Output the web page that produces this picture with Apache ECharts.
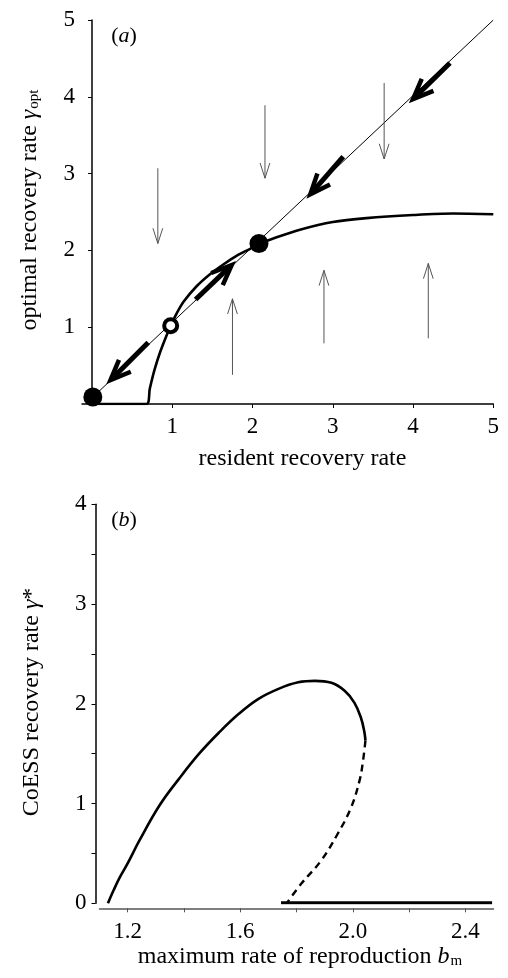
<!DOCTYPE html>
<html><head><meta charset="utf-8">
<script src="https://cdn.jsdelivr.net/npm/echarts@6/dist/echarts.min.js"></script>
<style>html,body{margin:0;padding:0;background:#fff}#c{width:508px;height:978px}</style>
</head><body><div id="c"></div>
<script>
// ---------- Panel (a) data ----------
const aXTicks = [1, 2, 3, 4, 5];
const aYTicks = [1, 2, 3, 4, 5];
const diagonal = [[0, 0.08], [5, 5]];
const optimalCurve = [
  [0, 0], [0.68, 0], [0.72, 0.2], [0.78, 0.45], [0.85, 0.68], [0.92, 0.87], [0.98, 1.02],
  [1.05, 1.17], [1.14, 1.33], [1.30, 1.53], [1.47, 1.69], [1.64, 1.82], [1.80, 1.93],
  [1.97, 2.02], [2.08, 2.08], [2.30, 2.17], [2.59, 2.27], [3.0, 2.37], [3.42, 2.42],
  [4.0, 2.46], [4.5, 2.48], [5.0, 2.47]
];
const stablePoints = [[0.01, 0.09], [2.08, 2.09]];
const unstablePoints = [[0.98, 1.02]];
// [tailX, tailY, tipX, tipY]
const thickArrows = [
  [0.70, 0.80, 0.23, 0.31],
  [1.29, 1.36, 1.74, 1.81],
  [3.13, 3.22, 2.72, 2.73],
  [4.46, 4.44, 4.00, 3.97]
];
const thinArrows = [
  [0.82, 3.07, 0.82, 2.09],
  [2.155, 3.89, 2.155, 2.94],
  [3.64, 4.18, 3.64, 3.19],
  [1.75, 0.38, 1.75, 1.37],
  [2.89, 0.79, 2.89, 1.74],
  [4.19, 0.855, 4.19, 1.83]
];
// ---------- Panel (b) data ----------
const bYLabels = [0, 1, 2, 3, 4];
const bYTicks = [0, 0.5, 1, 1.5, 2, 2.5, 3, 3.5, 4];
const bXLabels = [1.2, 1.6, 2.0, 2.4];
const bXTicks = [1.2, 1.4, 1.6, 1.8, 2.0, 2.2, 2.4];
const solidBranch = [
  [1.13, 0], [1.15, 0.13], [1.172, 0.26], [1.20, 0.40], [1.242, 0.63], [1.313, 0.98], [1.383, 1.25],
  [1.454, 1.50], [1.524, 1.71], [1.595, 1.90], [1.665, 2.05], [1.736, 2.15], [1.806, 2.215],
  [1.865, 2.23], [1.924, 2.21], [1.971, 2.13], [2.006, 2.01], [2.029, 1.86], [2.041, 1.72],
  [2.045, 1.63]
];
const dashedBranch = [
  [2.045, 1.63], [2.035, 1.40], [2.024, 1.23], [1.994, 0.96], [1.947, 0.70],
  [1.888, 0.43], [1.818, 0.20], [1.765, 0.0]
];
const zeroBranch = [[1.745, 0.005], [2.495, 0.005]];

const SERIF = 'Liberation Serif';

function arrowRenderer(headLen, headAngle, shaftW, headW, color, shorten) {
  return function (params, api) {
    const p1 = api.coord([api.value(0), api.value(1)]);
    const p2 = api.coord([api.value(2), api.value(3)]);
    const ang = Math.atan2(p1[1] - p2[1], p1[0] - p2[0]);
    const l = [p2[0] + headLen * Math.cos(ang + headAngle), p2[1] + headLen * Math.sin(ang + headAngle)];
    const r = [p2[0] + headLen * Math.cos(ang - headAngle), p2[1] + headLen * Math.sin(ang - headAngle)];
    const e = [p2[0] + shorten * Math.cos(ang), p2[1] + shorten * Math.sin(ang)];
    return {
      type: 'group',
      children: [
        { type: 'line', shape: { x1: p1[0], y1: p1[1], x2: e[0], y2: e[1] },
          style: { stroke: color, lineWidth: shaftW } },
        { type: 'polyline', shape: { points: [l, p2, r] },
          style: { stroke: color, lineWidth: headW, fill: null, lineJoin: 'miter' } }
      ]
    };
  };
}

const labelStyle = { fontFamily: SERIF, fontSize: 23, color: '#000' };

const option = {
  animation: false,
  backgroundColor: '#fff',
  grid: [
    { left: 82, right: 14.7, top: 20, height: 384 },
    { left: 99.5, right: 14.5, top: 504.3, height: 399 }
  ],
  xAxis: [
    { gridIndex: 0, type: 'value', min: -0.125, max: 5,
      axisLine: { lineStyle: { color: '#000', width: 1.5 } },
      axisTick: { customValues: aXTicks, length: 4, lineStyle: { color: '#000' } },
      axisLabel: Object.assign({ customValues: aXTicks, margin: 11 }, labelStyle),
      splitLine: { show: false } },
    { gridIndex: 1, type: 'value', min: 1.1, max: 2.5, offset: 5,
      axisLine: { onZero: false, lineStyle: { color: '#555', width: 1.5 } },
      axisTick: { customValues: bXTicks, length: 4, lineStyle: { color: '#555' } },
      axisLabel: Object.assign({ customValues: bXLabels, margin: 12, formatter: v => v.toFixed(1) }, labelStyle),
      splitLine: { show: false } }
  ],
  yAxis: [
    { gridIndex: 0, type: 'value', min: 0, max: 5, interval: 1,
      axisLine: { onZero: true, lineStyle: { color: '#000', width: 1.5 } },
      axisTick: { customValues: aYTicks, length: 4, lineStyle: { color: '#000' } },
      axisLabel: Object.assign({ customValues: aYTicks, margin: 7 }, labelStyle),
      splitLine: { show: false } },
    { gridIndex: 1, type: 'value', min: 0, max: 4, offset: 4,
      axisLine: { onZero: false, lineStyle: { color: '#000', width: 1.5 } },
      axisTick: { customValues: bYTicks, length: 4, lineStyle: { color: '#000' } },
      axisLabel: Object.assign({ customValues: bYLabels, margin: 9 }, labelStyle),
      splitLine: { show: false } }
  ],
  series: [
    { type: 'line', xAxisIndex: 0, yAxisIndex: 0, data: diagonal, symbol: 'none',
      lineStyle: { color: '#000', width: 1 }, z: 2 },
    { type: 'line', xAxisIndex: 0, yAxisIndex: 0, data: optimalCurve, symbol: 'none', smooth: 0.3,
      lineStyle: { color: '#000', width: 2.6 }, z: 3 },
    { type: 'custom', xAxisIndex: 0, yAxisIndex: 0, data: thinArrows,
      encode: { x: [0, 2], y: [1, 3] },
      renderItem: arrowRenderer(16, 0.31, 1, 1, '#555', 0), z: 4 },
    { type: 'custom', xAxisIndex: 0, yAxisIndex: 0, data: thickArrows,
      encode: { x: [0, 2], y: [1, 3] },
      renderItem: arrowRenderer(22, 0.39, 5, 4.5, '#000', 6), z: 5 },
    { type: 'scatter', xAxisIndex: 0, yAxisIndex: 0, data: stablePoints, symbol: 'circle',
      symbolSize: 19, itemStyle: { color: '#000', opacity: 1 }, z: 6 },
    { type: 'scatter', xAxisIndex: 0, yAxisIndex: 0, data: unstablePoints, symbol: 'circle',
      symbolSize: 13, itemStyle: { color: '#fff', borderColor: '#000', borderWidth: 4, opacity: 1 }, z: 6 },

    { type: 'line', xAxisIndex: 1, yAxisIndex: 1, data: solidBranch, symbol: 'none', smooth: 0.4,
      lineStyle: { color: '#000', width: 2.6 } },
    { type: 'line', xAxisIndex: 1, yAxisIndex: 1, data: dashedBranch, symbol: 'none', smooth: 0.4,
      lineStyle: { color: '#000', width: 2.4, type: [7, 5] } },
    { type: 'line', xAxisIndex: 1, yAxisIndex: 1, data: zeroBranch, symbol: 'none',
      lineStyle: { color: '#000', width: 3 } }
  ],
  graphic: [
    { type: 'text', x: 124, y: 36,
      style: { text: '({i|a})', fontFamily: SERIF, fontSize: 22, fill: '#000', align: 'center', verticalAlign: 'middle',
        rich: { i: { fontFamily: SERIF, fontSize: 22, fontStyle: 'italic' } } } },
    { type: 'text', x: 124, y: 520,
      style: { text: '({i|b})', fontFamily: SERIF, fontSize: 22, fill: '#000', align: 'center', verticalAlign: 'middle',
        rich: { i: { fontFamily: SERIF, fontSize: 22, fontStyle: 'italic' } } } },
    { type: 'text', x: 302.5, y: 459,
      style: { text: 'resident recovery rate', fontFamily: SERIF, fontSize: 24, fill: '#000', align: 'center', verticalAlign: 'middle' } },
    { type: 'text', x: 30, y: 210, rotation: Math.PI / 2,
      style: { text: '{r|optimal recovery rate }{g|γ}{s|opt}', fill: '#000', align: 'center', verticalAlign: 'middle',
        rich: {
          r: { fontFamily: SERIF, fontSize: 24, lineHeight: 24, verticalAlign: 'top' },
          g: { fontFamily: SERIF, fontSize: 24, fontStyle: 'italic', lineHeight: 24, verticalAlign: 'top' },
          s: { fontFamily: SERIF, fontSize: 15, lineHeight: 15, padding: [12, 0, 0, 1], verticalAlign: 'bottom' }
        } } },
    { type: 'text', x: 32, y: 702, rotation: Math.PI / 2,
      style: { text: '{r|CoESS recovery rate }{g|γ}{r|*}', fill: '#000', align: 'center', verticalAlign: 'middle',
        rich: {
          r: { fontFamily: SERIF, fontSize: 24 },
          g: { fontFamily: SERIF, fontSize: 24, fontStyle: 'italic' }
        } } },
    { type: 'text', x: 300, y: 957,
      style: { text: '{r|maximum rate of reproduction }{g|b}{s|m}', fill: '#000', align: 'center', verticalAlign: 'middle',
        rich: {
          r: { fontFamily: SERIF, fontSize: 24, lineHeight: 24, verticalAlign: 'top' },
          g: { fontFamily: SERIF, fontSize: 24, fontStyle: 'italic', lineHeight: 24, verticalAlign: 'top' },
          s: { fontFamily: SERIF, fontSize: 15, lineHeight: 15, padding: [12, 0, 0, 1], verticalAlign: 'bottom' }
        } } }
  ]
};

const chart = echarts.init(document.getElementById('c'), null, { renderer: 'canvas' });
chart.setOption(option);
</script>
</body></html>
